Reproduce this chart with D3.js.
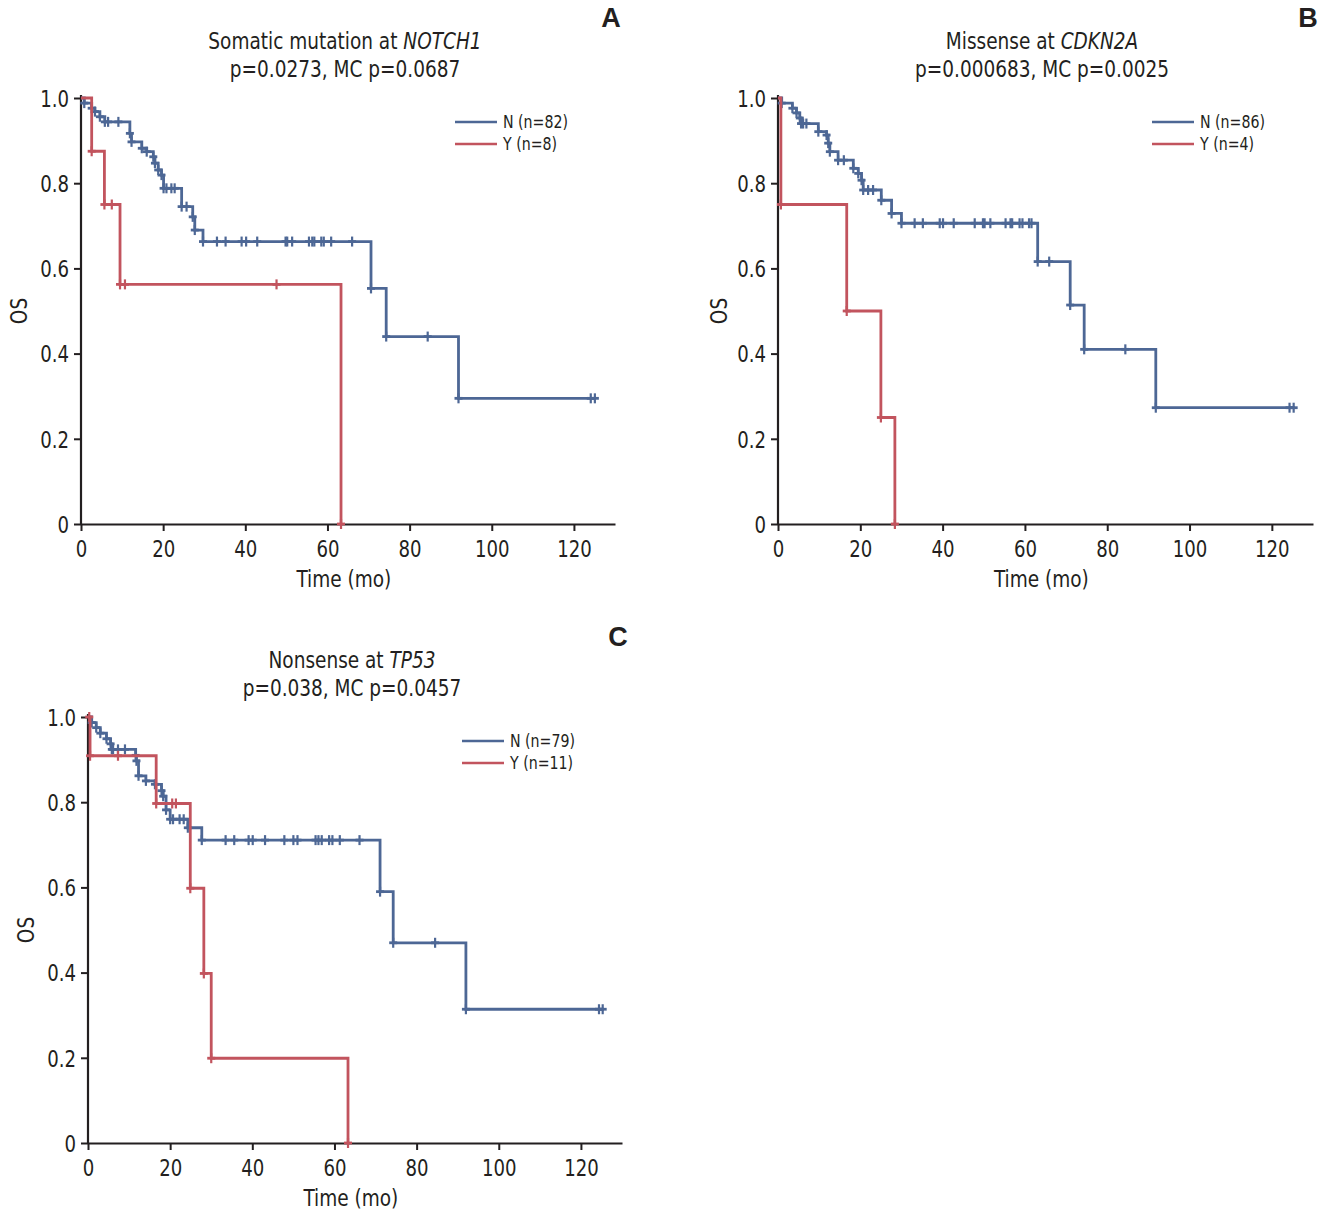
<!DOCTYPE html>
<html><head><meta charset="utf-8">
<script src="https://cdn.jsdelivr.net/npm/d3@7"></script>
<style>
body{margin:0;background:#fff;}
svg{display:block;}
text{font-family:"Liberation Sans Narrow","DejaVu Sans Condensed","Roboto",sans-serif;fill:#231f20;}
</style></head><body>
<script>
// ---- data ----
const xTicks=[0,20,40,60,80,100,120];
const yTicks=[0,0.2,0.4,0.6,0.8,1.0];
const yTickLabels=["0","0.2","0.4","0.6","0.8","1.0"];
const xTickLabels=["0","20","40","60","80","100","120"];
const panelLetters=["A","B","C"];
const titleLine1Pre=["Somatic mutation at ","Missense at ","Nonsense at "];
const titleGene=["NOTCH1","CDKN2A","TP53"];
const titleLine2=["p=0.0273, MC p=0.0687","p=0.000683, MC p=0.0025","p=0.038, MC p=0.0457"];
const legendN=["N (n=82)","N (n=86)","N (n=79)"];
const legendY=["Y (n=8)","Y (n=4)","Y (n=11)"];

const A_N_time=[0.8,2.6,3.4,4.6,5.8,11.9,12.3,14.8,16.0,17.6,18.0,18.8,19.6,20.1,24.5,27.2,27.7,29.7,70.6,74.3,91.9];
const A_N_surv=[0.988,0.976,0.968,0.956,0.944,0.917,0.897,0.882,0.874,0.862,0.847,0.831,0.819,0.788,0.745,0.721,0.69,0.663,0.553,0.44,0.295];
const A_N_cens=[6.6,9.1,20.8,22.0,22.8,25.7,33.1,35.2,39.1,40.2,42.9,49.8,50.2,51.4,55.5,56.3,56.8,58.5,59.1,60.9,66.0,84.4,124.1,125.1];
const A_N_end=125.3;
const A_Y_time=[2.6,5.7,9.5,63.3];
const A_Y_surv=[0.875,0.75,0.5625,0];
const A_Y_cens=[7.5,10.7,47.6];
const A_Y_end=63.3;

const B_N_time=[0.9,3.5,4.5,5.3,5.6,9.8,11.8,12.2,12.6,14.6,18.3,19.5,20.3,20.7,25.1,27.6,30.0,63.1,71.0,74.4,91.8];
const B_N_surv=[0.988,0.976,0.965,0.953,0.94,0.921,0.913,0.894,0.874,0.854,0.835,0.823,0.807,0.784,0.76,0.729,0.706,0.616,0.514,0.41,0.273];
const B_N_cens=[6.1,6.9,16.0,21.9,23.1,33.2,35.2,39.3,40.1,42.7,47.8,49.8,50.2,51.6,55.3,56.5,56.9,58.7,59.4,61.0,61.6,65.9,84.4,124.3,125.3];
const B_N_end=125.6;
const B_Y_time=[0.7,16.7,25.0,28.4];
const B_Y_surv=[0.75,0.5,0.25,0];
const B_Y_cens=[];
const B_Y_end=28.4;

const C_N_time=[0.9,2.0,3.0,4.5,5.5,5.8,11.6,11.8,12.3,14.1,16.3,17.9,18.3,19.0,20.0,24.3,27.7,71.1,74.3,92.0];
const C_N_surv=[0.987,0.975,0.962,0.949,0.937,0.924,0.91,0.897,0.862,0.85,0.842,0.827,0.814,0.782,0.76,0.74,0.711,0.59,0.47,0.314];
const C_N_cens=[6.1,7.3,9.0,20.7,22.3,23.3,33.5,35.6,39.1,40.1,43.1,47.8,50.0,51.0,55.4,56.1,56.9,58.7,59.5,61.3,66.1,84.5,124.4,125.3];
const C_N_end=125.6;
const C_Y_time=[0.5,16.6,24.9,28.2,30.0,63.3];
const C_Y_surv=[0.909,0.797,0.598,0.398,0.199,0];
const C_Y_cens=[0.3,7.3,20.5,21.4];
const C_Y_end=63.3;

// ---- layout ----
const W=1333,H=1214;
const colN="#4d6795", colY="#c2545e";
const K=0.875; // horizontal condensing of text
const panels=[
 {x0:81,y0:98,x1:615,y1:524,titleX:345,titleY:49,letterX:611,letterY:27,legX:455,legY:122,osX:27,
  N:[A_N_time,A_N_surv,A_N_cens,A_N_end],Y:[A_Y_time,A_Y_surv,A_Y_cens,A_Y_end]},
 {x0:778,y0:98,x1:1313,y1:524,titleX:1042,titleY:49,letterX:1308,letterY:27,legX:1152,legY:122,osX:727,
  N:[B_N_time,B_N_surv,B_N_cens,B_N_end],Y:[B_Y_time,B_Y_surv,B_Y_cens,B_Y_end]},
 {x0:88,y0:717,x1:622,y1:1143,titleX:352,titleY:668,letterX:618,letterY:646,legX:462,legY:741,osX:34,
  N:[C_N_time,C_N_surv,C_N_cens,C_N_end],Y:[C_Y_time,C_Y_surv,C_Y_cens,C_Y_end]}
];

const svg=d3.select("body").append("svg").attr("width",W).attr("height",H);

function survAt(times,surv,t){
  let s=1;
  for(let i=0;i<times.length;i++){ if(times[i]<=t) s=surv[i]; }
  return s;
}
function condense(sel){
  sel.each(function(){
    const t=d3.select(this);
    const xv=+(t.attr("x")||0);
    t.attr("x",xv/K).attr("transform",(t.attr("transform")||"")+` scale(${K},1)`);
  });
}

panels.forEach((p,pi)=>{
  const g=svg.append("g");
  const x=d3.scaleLinear().domain([0,130]).range([p.x0,p.x1]);
  const y=d3.scaleLinear().domain([0,1]).range([p.y1,p.y0]);

  const xa=g.append("g").attr("transform",`translate(0,${p.y1})`)
    .call(d3.axisBottom(x).tickValues(xTicks).tickFormat((d,i)=>xTickLabels[i]).tickSize(7).tickSizeOuter(0));
  const ya=g.append("g").attr("transform",`translate(${p.x0},0)`)
    .call(d3.axisLeft(y).tickValues(yTicks).tickFormat((d,i)=>yTickLabels[i]).tickSize(7).tickSizeOuter(0));
  [xa,ya].forEach(a=>{
    a.select(".domain").attr("stroke","#231f20").attr("stroke-width",2.2);
    a.selectAll(".tick line").attr("stroke","#231f20").attr("stroke-width",2);
    a.selectAll(".tick text").attr("font-size",23).attr("fill","#231f20")
      .style("font-family",'"Liberation Sans Narrow","DejaVu Sans Condensed",sans-serif');
  });
  xa.selectAll(".tick text").attr("dy",null).attr("y",33);
  ya.selectAll(".tick text").attr("x",-12).attr("dy","0.36em");
  condense(xa.selectAll(".tick text"));
  condense(ya.selectAll(".tick text"));
  ya.select(".domain").attr("d",`M0,${p.y1}V${p.y0-3}`);

  const t1=g.append("text").attr("x",p.titleX).attr("y",p.titleY).attr("text-anchor","middle").attr("font-size",23.5);
  t1.append("tspan").text(titleLine1Pre[pi]);
  t1.append("tspan").attr("font-style","italic").text(titleGene[pi]);
  const t2=g.append("text").attr("x",p.titleX).attr("y",p.titleY+28).attr("text-anchor","middle").attr("font-size",23.5).text(titleLine2[pi]);
  condense(t1); condense(t2);
  g.append("text").attr("x",p.letterX).attr("y",p.letterY).attr("text-anchor","middle").attr("font-size",27).attr("font-weight","bold")
    .style("font-family",'"Liberation Sans","DejaVu Sans",sans-serif').text(panelLetters[pi]);
  const os=g.append("text").attr("transform",`translate(${p.osX},${(p.y0+p.y1)/2}) rotate(-90)`).attr("text-anchor","middle").attr("font-size",23.5).text("OS");
  condense(os);
  const tm=g.append("text").attr("x",(x(0)+x(128))/2).attr("y",p.y1+63).attr("text-anchor","middle").attr("font-size",23.5).text("Time (mo)");
  condense(tm);

  [[colN,legendN[pi]],[colY,legendY[pi]]].forEach((d,i)=>{
    const ly=p.legY+i*22;
    g.append("line").attr("x1",p.legX).attr("x2",p.legX+42).attr("y1",ly).attr("y2",ly).attr("stroke",d[0]).attr("stroke-width",2.6);
    const lt=g.append("text").attr("x",p.legX+48).attr("y",ly).attr("dy","0.36em").attr("font-size",18).text(d[1]);
    condense(lt);
  });

  [[p.N,colN],[p.Y,colY]].forEach(([c,col])=>{
    const [times,surv,cens,end]=c;
    const pts=[[0,1]];
    let s=1;
    times.forEach((t,i)=>{pts.push([t,s]);s=surv[i];pts.push([t,s]);});
    pts.push([end,s]);
    const line=d3.line().x(d=>x(d[0])).y(d=>y(d[1]));
    g.append("path").attr("d",line(pts)).attr("fill","none").attr("stroke",col).attr("stroke-width",2.8).attr("stroke-linejoin","miter");
    const marks=times.map((t,i)=>[t,surv[i]]).concat(cens.map(t=>[t,survAt(times,surv,t)]));
    marks.forEach(m=>{
      const mx=x(m[0]),my=y(m[1]);
      g.append("line").attr("x1",mx).attr("x2",mx).attr("y1",my-5).attr("y2",my+5).attr("stroke",col).attr("stroke-width",2.2);
      g.append("line").attr("x1",mx-4).attr("x2",mx+4).attr("y1",my).attr("y2",my).attr("stroke",col).attr("stroke-width",2.8);
    });
  });
});
</script>
</body></html>
